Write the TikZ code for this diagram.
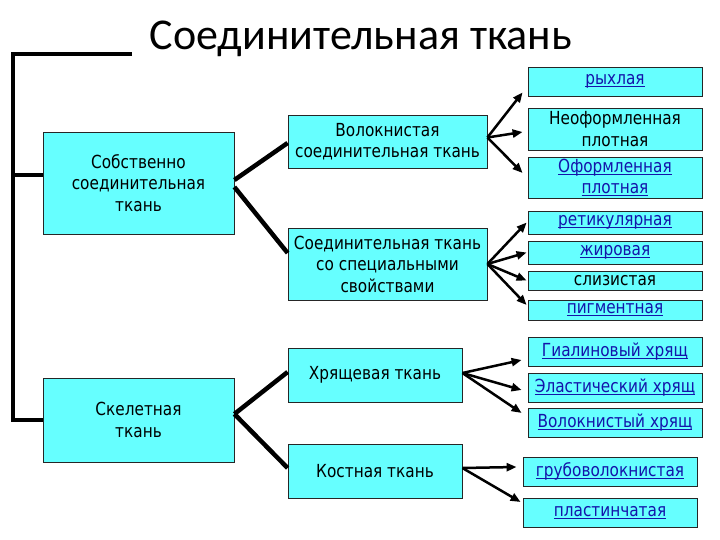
\documentclass[tikz,border=0pt]{standalone}
\usepackage{fontspec}
\usetikzlibrary{arrows.meta,calc}
\newfontfamily\bodyfont{DejaVu Sans}[FakeStretch=0.85]
\newfontfamily\titlefont{Carlito}
\definecolor{boxcyan}{RGB}{102,255,255}
\definecolor{linkblue}{RGB}{20,20,170}
\newsavebox{\lnkbox}
\newcommand{\lnk}[1]{\textcolor{linkblue}{\sbox{\lnkbox}{#1}\rlap{\rule[-2.5pt]{\wd\lnkbox}{1pt}}\usebox{\lnkbox}}}
\begin{document}
\begin{tikzpicture}[x=1pt,y=-1pt,
  box/.style={draw=black!85, line width=0.8pt, fill=boxcyan, inner sep=0pt, align=center,
    font=\bodyfont\fontsize{18}{21.5}\selectfont},
  tree/.style={line width=4.5pt, line join=miter},
  arr/.style={line width=2.5pt, -{Triangle[length=10pt,width=8pt]}}]
\useasboundingbox (0,0) rectangle (720,540);
% title
\node[anchor=base, font=\titlefont\fontsize{44}{50}\selectfont, inner sep=0pt] (title) at (361,50) {Соединительная ткань};
% level 1
\node[box, minimum width=191, minimum height=102] (sob) at (138.5,183) {Собственно\\соединительная\\ткань};
\node[box, minimum width=191, minimum height=84] (skel) at (138.5,420) {Скелетная\\ткань};
% level 2
\node[box, minimum width=199, minimum height=53] (vol) at (387.5,141.5) {Волокнистая\\соединительная ткань};
\node[box, minimum width=199, minimum height=72] (spec) at (387.5,264) {Соединительная ткань\\со специальными\\свойствами};
\node[box, minimum width=174, minimum height=54] (hrya) at (375,375) {Хрящевая ткань};
\node[box, minimum width=174, minimum height=54] (kost) at (375,471) {Костная ткань};
% level 3
\node[box, minimum width=174, minimum height=29] (ryh) at (615,81.5) {\lnk{рыхлая}};
\node[box, minimum width=174, minimum height=42] (neo) at (615,129) {Неоформленная\\плотная};
\node[box, minimum width=174, minimum height=41] (ofo) at (615,177.5) {\lnk{Оформленная}\\\lnk{плотная}};
\node[box, minimum width=174, minimum height=23] (ret) at (615,222.5) {\lnk{ретикулярная}};
\node[box, minimum width=174, minimum height=23] (zhir) at (615,252.5) {\lnk{жировая}};
\node[box, minimum width=174, minimum height=19] (sliz) at (615,280.5) {слизистая};
\node[box, minimum width=174, minimum height=20] (pigm) at (615,310) {\lnk{пигментная}};
\node[box, minimum width=174, minimum height=29] (gial) at (615,351.5) {\lnk{Гиалиновый хрящ}};
\node[box, minimum width=174, minimum height=29] (elast) at (615,387.5) {\lnk{Эластический хрящ}};
\node[box, minimum width=174, minimum height=29] (volh) at (615,422.5) {\lnk{Волокнистый хрящ}};
\node[box, minimum width=174, minimum height=29] (grub) at (610,471.5) {\lnk{грубоволокнистая}};
\node[box, minimum width=174, minimum height=29] (plast) at (610,512.5) {\lnk{пластинчатая}};
% tree lines
\coordinate (topend) at (132,54);
\coordinate (tl) at (13,54);
\coordinate (bl) at (13,420);
\coordinate (ml) at (13,175);
\draw[tree] (topend) -- (tl) -- (bl) -- (skel.west);
\draw[tree] (ml) -- (sob.west |- ml);
\draw[tree] ($(sob.east)+(0,-3)$) -- ($(vol.west)+(0,1.5)$);
\draw[tree] ($(sob.east)+(0,4)$) -- ($(spec.west)+(0,-11)$);
\draw[tree] ($(skel.east)+(0,-6)$) -- ($(hrya.west)+(0,-3)$);
\draw[tree] ($(skel.east)+(0,-6)$) -- ($(kost.west)+(0,-3)$);
% arrows
\draw[arr] ($(vol.east)+(0,-4)$) -- ($(ryh.south west)+(-5,-4)$);
\draw[arr] ($(vol.east)+(0,-4)$) -- ($(neo.west)+(-5,3)$);
\draw[arr] ($(vol.east)+(0,-4)$) -- ($(ofo.west)+(-5,-4.5)$);
\draw[arr] (spec.east) -- ($(ret.west)+(-1,0)$);
\draw[arr] (spec.east) -- ($(zhir.west)+(-1,0)$);
\draw[arr] (spec.east) -- ($(sliz.west)+(-1,0)$);
\draw[arr] (spec.east) -- ($(pigm.west)+(-1,-5)$);
\draw[arr] ($(hrya.east)+(0,-2)$) -- ($(gial.west)+(-6,8.5)$);
\draw[arr] ($(hrya.east)+(0,-2)$) -- ($(elast.west)+(-6,2.5)$);
\draw[arr] ($(hrya.east)+(0,-2)$) -- ($(volh.west)+(-6,-9.5)$);
\draw[arr] ($(kost.east)+(0,-3)$) -- ($(grub.west)+(-6,-4.5)$);
\draw[arr] ($(kost.east)+(0,-3)$) -- ($(plast.west)+(-2,-10.5)$);
\end{tikzpicture}
\end{document}
